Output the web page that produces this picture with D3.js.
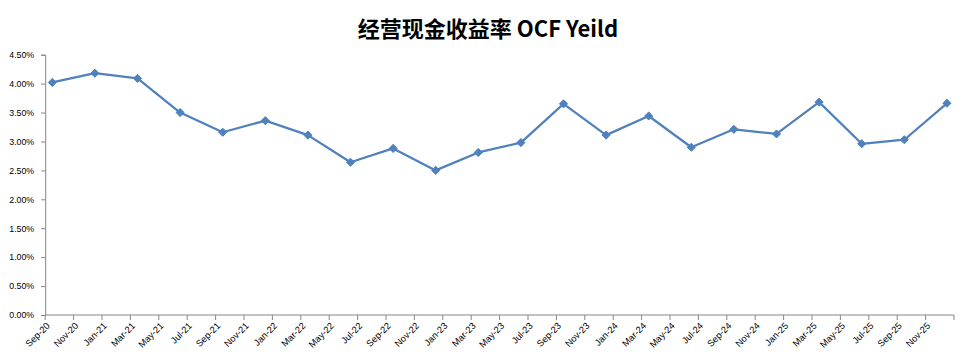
<!DOCTYPE html>
<html>
<head>
<meta charset="utf-8">
<script src="https://cdn.jsdelivr.net/npm/d3@7"></script>
<style>
  html, body { margin: 0; padding: 0; background: #fff; }
  svg { display: block; }
</style>
</head>
<body>
<svg id="chart" width="969" height="363"></svg>
<script>
const title = "经营现金收益率 OCF Yeild";
const periods = ["Sep-20","Dec-20","Mar-21","Jun-21","Sep-21","Dec-21","Mar-22","Jun-22","Sep-22","Dec-22","Mar-23","Jun-23","Sep-23","Dec-23","Mar-24","Jun-24","Sep-24","Dec-24","Mar-25","Jun-25","Sep-25","Dec-25"];
const ocfYield = [4.02,4.18,4.09,3.50,3.16,3.36,3.11,2.64,2.88,2.50,2.81,2.98,3.65,3.11,3.44,2.90,3.21,3.13,3.68,2.96,3.03,3.66];
const xTickLabels = ["Sep-20","Nov-20","Jan-21","Mar-21","May-21","Jul-21","Sep-21","Nov-21","Jan-22","Mar-22","May-22","Jul-22","Sep-22","Nov-22","Jan-23","Mar-23","May-23","Jul-23","Sep-23","Nov-23","Jan-24","Mar-24","May-24","Jul-24","Sep-24","Nov-24","Jan-25","Mar-25","May-25","Jul-25","Sep-25","Nov-25"];
const yTicks = [0,0.5,1,1.5,2,2.5,3,3.5,4,4.5];

const svg = d3.select("#chart");
const mLeft = 45.2, mRight = 954, mTop = 54.7, mBottom = 315;
const axisColor = "#868686";
const lineColor = "#4F81BD";
const fmt = d3.timeFormat("%b-%y");
const months = d3.timeMonth.range(new Date(2020,8,1), new Date(2026,0,1)).map(fmt);

const x = d3.scaleBand().domain(months).range([mLeft, mRight]).padding(0);
const y = d3.scaleLinear().domain([0, 4.5]).range([mBottom, mTop]);

// title
svg.append("text")
  .attr("x", 488).attr("y", 37)
  .attr("text-anchor", "middle")
  .attr("font-family", "'Noto Sans CJK SC', sans-serif")
  .attr("font-weight", "bold")
  .attr("font-size", 22)
  .attr("fill", "#000")
  .text(title);

// y axis
const yAxis = d3.axisLeft(y).tickValues(yTicks).tickSize(4).tickPadding(7)
  .tickFormat(d => d.toFixed(2) + "%");
const yg = svg.append("g").attr("transform", `translate(${mLeft},0)`).call(yAxis);
yg.select(".domain").attr("stroke", axisColor).attr("stroke-width", 1);
yg.selectAll(".tick line").attr("stroke", axisColor);
yg.selectAll(".tick text").attr("font-family", "'Liberation Sans', Arial, sans-serif")
  .attr("font-size", 8.8).attr("fill", "#000");

// x axis
const xg = svg.append("g");
xg.append("line").attr("x1", mLeft).attr("x2", mRight).attr("y1", mBottom).attr("y2", mBottom)
  .attr("stroke", axisColor).attr("stroke-width", 1);
const tickXs = xTickLabels.map(l => x(l)).concat([mRight]);
xg.selectAll("line.tk").data(tickXs).join("line").attr("class", "tk")
  .attr("x1", d => d).attr("x2", d => d).attr("y1", mBottom).attr("y2", mBottom + 5)
  .attr("stroke", axisColor);
xg.selectAll("text").data(xTickLabels).join("text")
  .attr("transform", d => `translate(${x(d) + 3},${mBottom + 9}) rotate(-45)`)
  .attr("text-anchor", "end")
  .attr("dy", "0.35em")
  .attr("font-family", "'Liberation Sans', Arial, sans-serif")
  .attr("font-size", 9.3)
  .attr("fill", "#000")
  .text(d => d);

// line
const pts = periods.map((p, i) => [x(p) + x.bandwidth() / 2, y(ocfYield[i])]);
svg.append("path").datum(pts)
  .attr("d", d3.line())
  .attr("fill", "none").attr("stroke", lineColor).attr("stroke-width", 2.25)
  .attr("stroke-linejoin", "round");

svg.selectAll("path.mk").data(pts).join("path").attr("class", "mk")
  .attr("transform", d => `translate(${d[0]},${d[1]})`)
  .attr("d", d3.symbol().type(d3.symbolDiamond2).size(42))
  .attr("fill", lineColor).attr("stroke", lineColor).attr("stroke-width", 1);
</script>
</body>
</html>
